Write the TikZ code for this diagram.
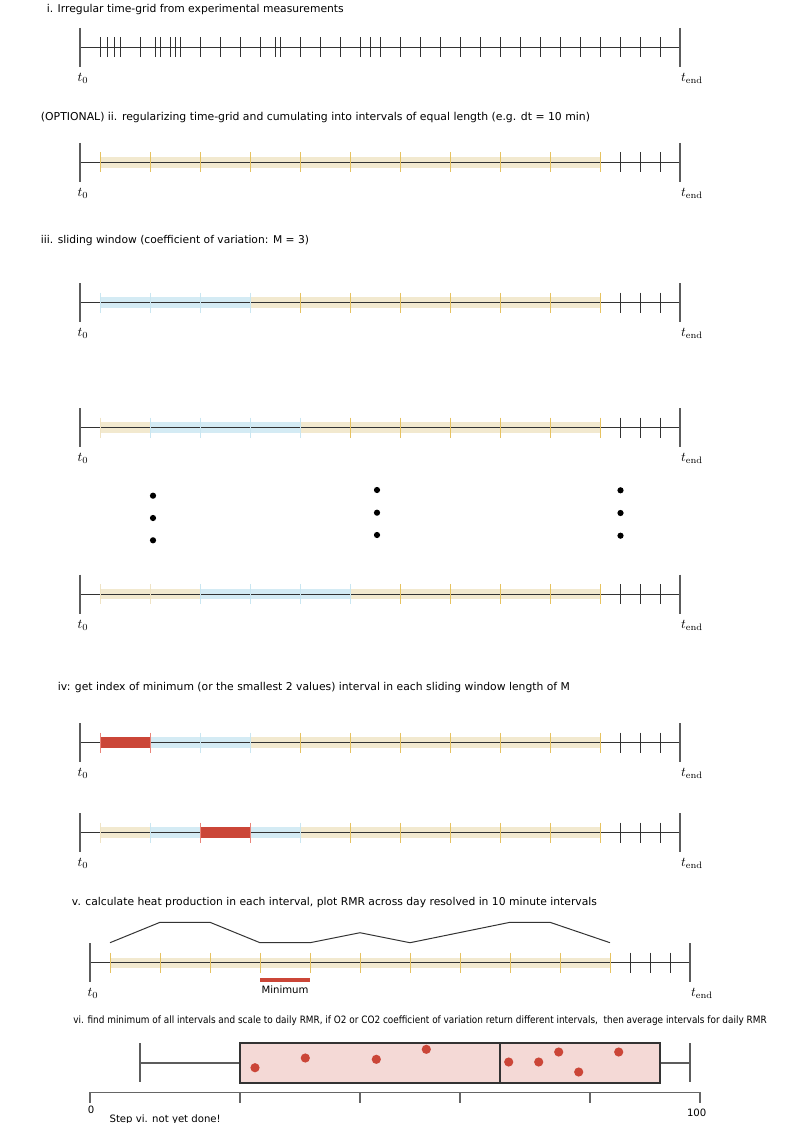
\documentclass[tikz,border=0pt]{standalone}
\usepackage{fontspec}
\usepackage{graphicx}
\newfontfamily\lab{DejaVu Sans}
\definecolor{bandY}{HTML}{F2E9CF}
\definecolor{tickY}{HTML}{E6C260}
\definecolor{tickP}{HTML}{EFE3C4}
\definecolor{bandB}{HTML}{D4EBF4}
\definecolor{tickB}{HTML}{C9E6F1}
\definecolor{redB}{HTML}{CB4638}
\definecolor{tickR}{HTML}{E9857A}
\definecolor{ink}{HTML}{333333}
\definecolor{boxF}{HTML}{F4D9D6}
\tikzset{
  tlline/.style={draw=ink, line width=0.75pt},
  talltick/.style={draw=ink!80!white, line width=0.9pt},
  blktick/.style={draw=ink, line width=0.75pt},
  tlab/.style={inner sep=0pt, font=\fontsize{10}{12}\selectfont},
  caption/.style={anchor=west, inner sep=0pt, font=\lab\fontsize{7.6}{9}\selectfont},
  small/.style={inner sep=0pt, font=\lab\fontsize{7.6}{9}\selectfont},
  vdot/.style={fill=black},
  rdot/.style={fill=redB},
}
\newcommand\drawTL[3]{% name, y, xoffset
  \draw[tlline] (80+#3,#2) coordinate (#1-s) -- (680+#3,#2) coordinate (#1-e);
  \draw[talltick] (80+#3,#2-19.5) -- (80+#3,#2+19.5);
  \draw[talltick] (680+#3,#2-19.5) -- (680+#3,#2+19.5);
  \foreach \k in {620,640,660} \draw[blktick] (\k+#3,#2-10) -- (\k+#3,#2+10);
  \node[tlab] (#1-t0) at (83+#3,#2+31) {$t_0$};
  \node[tlab] (#1-te) at (692+#3,#2+31) {$t_{\mathrm{end}}$};
}
\newcommand\bandseg[4]{% y, x1, x2, colour
  \fill[#4] (#2,#1-5.2) rectangle (#3,#1+5.2);}
\newcommand\tickset[3]{% y, list, colour
  \foreach \k in {#2} \draw[draw=#3, line width=0.75pt] (\k,#1-10) -- (\k,#1+10);}
\begin{document}
\begin{tikzpicture}[x=0.75pt,y=-0.75pt]
\useasboundingbox (0,0) rectangle (794,1123);

% ---------- i ----------
\node[caption] (ti) at (46.5,9.5) {\resizebox{222.75pt}{!}{i. Irregular time-grid from experimental measurements}};
\drawTL{A}{47.5}{0}
\tickset{47.5}{100,107.5,114,120,140,155,160,170,175,180,200,220,240,260,275,280,300,320,340,360,370,380,400,420,440,460,480,500,520,540,560,580,600}{ink}

% ---------- ii ----------
\node[caption] (tii) at (40.7,117.3) {\resizebox{411.75pt}{!}{(OPTIONAL) ii. regularizing time-grid and cumulating into intervals of equal length (e.g. dt = 10 min)}};
\bandseg{162.5}{100}{600}{bandY}
\drawTL{B}{162.5}{0}
\tickset{162.5}{100,150,...,600}{tickY}

% ---------- iii ----------
\node[caption] (tiii) at (40.7,240.7) {\resizebox{201pt}{!}{iii. sliding window (coefficient of variation: M = 3)}};
\bandseg{302.5}{100}{250}{bandB}
\bandseg{302.5}{250}{600}{bandY}
\drawTL{C}{302.5}{0}
\tickset{302.5}{100,150,200,250}{tickB}
\tickset{302.5}{300,350,...,600}{tickY}

\bandseg{427.5}{100}{150}{bandY}
\bandseg{427.5}{150}{300}{bandB}
\bandseg{427.5}{300}{600}{bandY}
\drawTL{D}{427.5}{0}
\tickset{427.5}{100}{tickP}
\tickset{427.5}{150,200,250,300}{tickB}
\tickset{427.5}{350,400,...,600}{tickY}

\fill[vdot] (153,495.7) circle (3.1) (153,518) circle (3.1) (153,540.3) circle (3.1);
\fill[vdot] (377,490) circle (3.1) (377,512.7) circle (3.1) (377,535) circle (3.1);
\fill[vdot] (620.5,490.3) circle (3.1) (620.5,513) circle (3.1) (620.5,535.7) circle (3.1);

\bandseg{594}{100}{200}{bandY}
\bandseg{594}{200}{350}{bandB}
\bandseg{594}{350}{600}{bandY}
\drawTL{E}{594}{0}
\tickset{594}{100,150}{tickP}
\tickset{594}{200,250,300,350}{tickB}
\tickset{594}{400,450,...,600}{tickY}

% ---------- iv ----------
\node[caption] (tiv) at (57.7,687.3) {\resizebox{384pt}{!}{iv: get index of minimum (or the smallest 2 values) interval in each sliding window length of M}};
\bandseg{742.5}{150}{250}{bandB}
\bandseg{742.5}{250}{600}{bandY}
\drawTL{F}{742.5}{0}
\fill[redB] (100,737) rectangle (150,748);
\tickset{742.5}{100,150}{tickR}
\tickset{742.5}{200,250}{tickB}
\tickset{742.5}{300,350,...,600}{tickY}

\bandseg{832.5}{100}{150}{bandY}
\bandseg{832.5}{150}{300}{bandB}
\bandseg{832.5}{300}{600}{bandY}
\drawTL{G}{832.5}{0}
\fill[redB] (200,827) rectangle (250,838);
\tickset{832.5}{100}{tickP}
\tickset{832.5}{150,300}{tickB}
\tickset{832.5}{200,250}{tickR}
\tickset{832.5}{350,400,...,600}{tickY}

% ---------- v ----------
\node[caption] (tv) at (71.7,902.7) {\resizebox{393.75pt}{!}{v. calculate heat production in each interval, plot RMR across day resolved in 10 minute intervals}};
\bandseg{962.7}{110}{610}{bandY}
\drawTL{H}{962.7}{10}
\tickset{962.7}{110,160,...,610}{tickY}
\draw[tlline] (110,942.7) -- (160,922.3) -- (210,922.3) -- (260,942.7) -- (310,942.7) -- (360,932.7) -- (410,942.7) -- (510,922.3) -- (550,922.3) -- (610,942.7);
\fill[redB] (260,977.7) rectangle (310,982.3);
\node[small] (minl) at (285,990) {Minimum};

% ---------- vi ----------
\node[caption] (tvi) at (73,1020.5) {\resizebox{520pt}{\height}{vi. find minimum of all intervals and scale to daily RMR, if O2 or CO2 coefficient of variation return different intervals,\ \ then average intervals for daily RMR}};
\draw[draw=ink!80!white, line width=1pt] (140,1043.3) -- (140,1082.3) (140,1063) -- (240,1063);
\draw[draw=ink!80!white, line width=1pt] (690,1043.3) -- (690,1082.3) (660,1063) -- (690,1063);
\draw[fill=boxF, draw=ink, line width=1.4pt] (240,1042.7) rectangle (660,1082.7);
\draw[draw=ink, line width=0.8pt] (500,1042.7) -- (500,1082.7);
\foreach \px/\py in {255/1067.7,305.3/1058,376.3/1059.3,426.3/1049.3,508.7/1062,538.7/1062,558.7/1052,578.7/1072,618.7/1052}
  \fill[rdot] (\px,\py) circle (4.6);
\draw[draw=ink!75!white, line width=1pt] (90,1102.7) -- (90,1092.7) -- (700,1092.7) -- (700,1102.7);
\foreach \k in {240,360,460,590} \draw[draw=ink!75!white, line width=1pt] (\k,1092.7) -- (\k,1102.7);
\node[small] (zero) at (91,1110) {0};
\node[small] (hundred) at (696.7,1113) {100};
\node[small, anchor=base west] (step) at (109.3,1122) {Step vi. not yet done!};
\end{tikzpicture}
\end{document}
